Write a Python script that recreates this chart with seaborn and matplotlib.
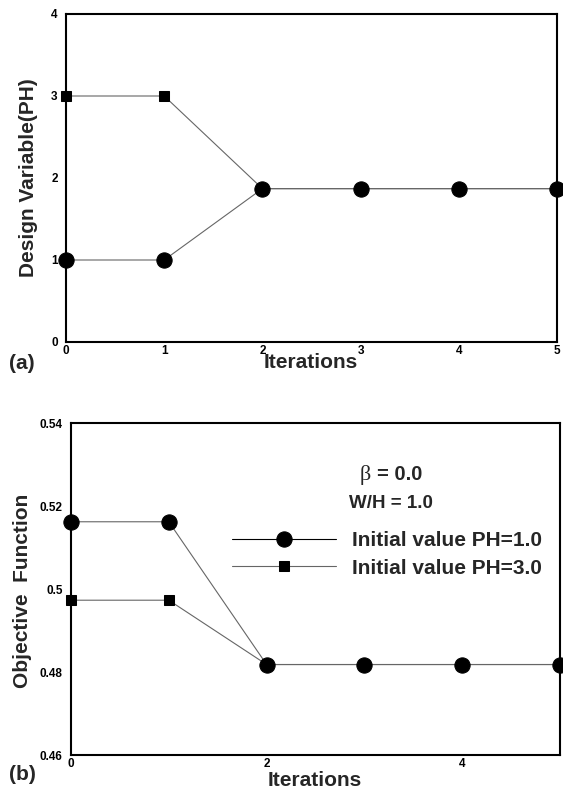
import matplotlib
matplotlib.use("Agg")
import matplotlib.pyplot as plt
import matplotlib.font_manager as fm
from matplotlib.ticker import MultipleLocator, FixedLocator
import pandas as pd
import seaborn as sns

# Optimisation history
iterations = [0, 1, 2, 3, 4, 5]
design_ph1 = [1.0, 1.0, 1.87, 1.87, 1.87, 1.87]
design_ph3 = [3.0, 3.0, 1.87, 1.87, 1.87, 1.87]
objective_ph1 = [0.5162, 0.5162, 0.4818, 0.4818, 0.4818, 0.4818]
objective_ph3 = [0.4973, 0.4973, 0.4818, 0.4818, 0.4818, 0.4818]
series_labels = ["Initial value PH=1.0", "Initial value PH=3.0"]
obj_tick_values = [0.46, 0.48, 0.50, 0.52, 0.54]
obj_tick_labels = ["0.46", "0.48", "0.5", "0.52", "0.54"]

sns.set_style("white")
names = {f.name for f in fm.fontManager.ttflist}
narrow = "Liberation Sans Narrow" if "Liberation Sans Narrow" in names else "Liberation Sans"
plt.rcParams["font.family"] = [narrow, "DejaVu Sans"]
plt.rcParams["font.weight"] = "bold"

LABEL_FS = 14.5

fig = plt.figure(figsize=(5.63, 7.89), dpi=100)
W, H = 563, 789


def px_axes(left, top, right, bottom):
    return fig.add_axes([left / W, 1 - bottom / H, (right - left) / W, (bottom - top) / H])


ax_a = px_axes(66, 14, 557, 342)
ax_b = px_axes(71, 423, 560, 755)

df_a = pd.DataFrame({"it": iterations * 2,
                     "val": design_ph3 + design_ph1,
                     "case": ["ph3"] * 6 + ["ph1"] * 6})
df_b = pd.DataFrame({"it": iterations * 2,
                     "val": objective_ph3 + objective_ph1,
                     "case": ["ph3"] * 6 + ["ph1"] * 6})

line_kw = dict(color="0.4", linewidth=0.8, clip_on=False)

for ax, df, with_label in [(ax_a, df_a, False), (ax_b, df_b, True)]:
    sub3 = df[df.case == "ph3"]
    sub1 = df[df.case == "ph1"]
    sns.lineplot(data=sub3, x="it", y="val", ax=ax, marker="s", markersize=7.5,
                 label=series_labels[1] if with_label else None,
                 legend=False, **line_kw)
    sns.lineplot(data=sub1, x="it", y="val", ax=ax, marker="o", markersize=11,
                 label=series_labels[0] if with_label else None,
                 legend=False, **line_kw)
    for ln in ax.lines:
        ln.set_markerfacecolor("k")
        ln.set_markeredgecolor("k")
        ln.set_zorder(3)
    for sp in ax.spines.values():
        sp.set_linewidth(1.5)
        sp.set_color("k")
        sp.set_visible(True)
    ax.set_xlim(0, 5)
    ax.tick_params(axis="both", which="both", direction="in", top=False, right=False,
                   labelsize=8.5, colors="k", width=1.0)
    ax.tick_params(axis="x", which="both", length=4, pad=2)
    ax.tick_params(axis="y", which="major", length=0, pad=6)
    ax.tick_params(axis="y", which="minor", length=9)

# Panel (a)
ax_a.set_ylim(0, 4)
ax_a.xaxis.set_major_locator(MultipleLocator(1))
ax_a.xaxis.set_minor_locator(MultipleLocator(0.2))
ax_a.yaxis.set_major_locator(MultipleLocator(1))
ax_a.yaxis.set_minor_locator(FixedLocator([0.5, 1.5, 2.5, 3.5]))
ax_a.set_xlabel("Iterations", fontsize=LABEL_FS + 0.5, fontweight="bold", va="center")
ax_a.xaxis.set_label_coords(0.499, -0.061)
ax_a.set_ylabel("Design Variable(PH)", fontsize=LABEL_FS + 0.5, fontweight="bold", va="center")
ax_a.yaxis.set_label_coords(-0.077, 0.5)

# Panel (b)
ax_b.set_ylim(0.46, 0.54)
ax_b.xaxis.set_major_locator(MultipleLocator(2))
ax_b.xaxis.set_minor_locator(MultipleLocator(0.4))
ax_b.set_yticks(obj_tick_values)
ax_b.set_yticklabels(obj_tick_labels)
ax_b.yaxis.set_minor_locator(FixedLocator([0.47, 0.49, 0.51, 0.53]))
ax_b.set_xlabel("Iterations", fontsize=LABEL_FS + 0.5, fontweight="bold", va="center")
ax_b.xaxis.set_label_coords(0.499, -0.078)
ax_b.set_ylabel("Objective  Function", fontsize=LABEL_FS + 0.5, fontweight="bold", va="center")
ax_b.yaxis.set_label_coords(-0.100, 0.494)

handles, labels = ax_b.get_legend_handles_labels()
order = [labels.index(series_labels[0]), labels.index(series_labels[1])]
leg = ax_b.legend([handles[i] for i in order], [labels[i] for i in order],
                  loc="upper left", bbox_to_anchor=(232 / W, 1 - 531 / H),
                  bbox_transform=fig.transFigure, frameon=False,
                  fontsize=15, handlelength=5.0, handletextpad=0.75,
                  labelspacing=0.42, borderaxespad=0, borderpad=0)
for t in leg.get_texts():
    t.set_fontweight("bold")
leg.get_lines()[0].set_color("k")

fig.text(365 / W, 1 - 475 / H, "β", fontsize=LABEL_FS + 1.5, family="Liberation Serif",
         fontweight="normal", ha="center", va="center")
fig.text(377 / W, 1 - 475 / H, "= 0.0", fontsize=LABEL_FS, fontweight="bold",
         ha="left", va="center")
fig.text(349 / W, 1 - 503 / H, "W/H = 1.0", fontsize=LABEL_FS - 1, fontweight="bold",
         ha="left", va="center")

fig.text(22 / W, 1 - 363 / H, "(a)", fontsize=15, family="Liberation Sans",
         fontweight="bold", ha="center", va="center")
fig.text(22 / W, 1 - 774 / H, "(b)", fontsize=15, family="Liberation Sans",
         fontweight="bold", ha="center", va="center")

fig.savefig("out.png", dpi=100)
